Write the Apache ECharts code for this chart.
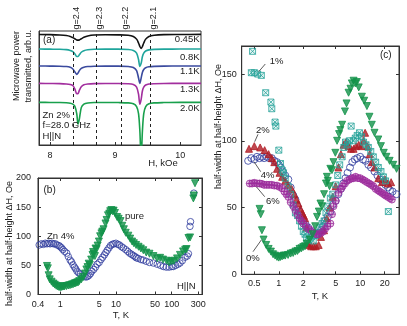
<!DOCTYPE html>
<html>
<head>
<meta charset="utf-8">
<script src="https://cdn.jsdelivr.net/npm/echarts@6/dist/echarts.min.js"></script>
<style>
html, body { margin: 0; padding: 0; background: #fff; }
#main { width: 407px; height: 326px; }
</style>
</head>
<body>
<div id="main"></div>
<script>
// (a) microwave transmission, Zn 2%, f = 28.0 GHz
var fieldH   = [7.83, 8.0, 8.15, 8.25, 8.31, 8.35, 8.38, 8.41, 8.43, 8.45, 8.48, 8.52, 8.58, 8.68, 8.85, 9.05, 9.2, 9.28, 9.33, 9.36, 9.38, 9.40, 9.42, 9.44, 9.47, 9.52, 9.6, 9.75, 10.0, 10.32];
var trace045 = [9.79, 9.78, 9.75, 9.70, 9.62, 9.51, 9.41, 9.31, 9.29, 9.31, 9.41, 9.54, 9.66, 9.74, 9.77, 9.76, 9.73, 9.62, 9.38, 9.04, 8.73, 8.56, 8.73, 9.04, 9.38, 9.62, 9.73, 9.78, 9.79, 9.80];
var trace08  = [8.50, 8.49, 8.48, 8.45, 8.38, 8.27, 8.08, 7.84, 7.84, 7.99, 8.22, 8.36, 8.44, 8.48, 8.49, 8.49, 8.46, 8.38, 8.14, 7.57, 6.97, 7.24, 7.84, 8.14, 8.33, 8.43, 8.47, 8.49, 8.50, 8.50];
var trace11  = [7.00, 6.99, 6.98, 6.95, 6.88, 6.73, 6.49, 6.26, 6.38, 6.59, 6.78, 6.89, 6.95, 6.98, 6.99, 6.99, 6.96, 6.87, 6.59, 5.93, 5.46, 5.93, 6.45, 6.69, 6.85, 6.93, 6.97, 6.99, 7.00, 7.00];
var trace13  = [5.46, 5.45, 5.44, 5.41, 5.36, 5.27, 4.98, 4.55, 4.55, 4.84, 5.16, 5.33, 5.40, 5.44, 5.45, 5.45, 5.43, 5.36, 5.13, 4.50, 3.61, 4.05, 4.81, 5.13, 5.31, 5.40, 5.43, 5.45, 5.46, 5.46];
var trace20  = [3.78, 3.77, 3.77, 3.74, 3.70, 3.62, 3.44, 2.78, 1.85, 2.30, 3.31, 3.62, 3.72, 3.76, 3.77, 3.76, 3.73, 3.65, 3.40, 2.78, 1.28, -1.22, 1.28, 2.78, 3.40, 3.65, 3.73, 3.76, 3.78, 3.78];
var traceNames = ['0.45K', '0.8K', '1.1K', '1.3K', '2.0K'];
var gNames = ['g=2.4', 'g=2.3', 'g=2.2', 'g=2.1'];
var gField = [8.35, 8.71, 9.10, 9.54];

// (b), (c) half-width vs T  [T (K), dH (Oe)]
var pure = [[0.58,49],[0.6,45],[0.62,33],[0.65,26],[0.7,22],[0.75,19],[0.8,17],[0.85,15],[0.9,14],[0.95,13],[1.0,12.5],[1.05,13],[1.1,13.5],[1.15,14],[1.2,14],[1.3,14.5],[1.4,15.5],[1.5,16],[1.6,17],[1.7,17.5],[1.8,19],[1.9,19.5],[2.0,20.5],[2.1,21],[2.2,23],[2.4,26],[2.6,30],[2.8,36],[2.95,43],[3.1,47],[3.25,53],[3.4,51],[3.6,60],[3.8,68],[3.9,73],[4.0,70],[4.2,66],[4.3,79],[4.5,78],[4.7,84],[4.95,91],[5.2,100],[5.5,105],[5.7,108],[6.0,112],[6.5,122],[6.8,128],[7.2,136],[7.6,139],[7.9,143],[8.3,145],[8.7,143],[9.1,144],[9.6,140],[10.5,133],[11.2,130],[12.1,126],[13.0,118],[13.9,112],[15,106],[16.7,101],[18,96],[19.5,91],[21,88],[23,85],[25.5,82],[28,79],[31,76],[35,72],[40,70],[47,66],[55,62],[62,63],[70,60],[81,58],[90,55],[100,57],[110,58],[125,62],[141,68],[160,74],[175,77],[185,78],[200,97],[214,98],[245,165],[250,170],[262,191]];
var zn4 = [[0.42,85],[0.46,87],[0.5,86],[0.54,88],[0.58,87],[0.62,88],[0.66,87],[0.71,88],[0.76,87],[0.82,87],[0.88,85],[0.95,84],[1.0,82],[1.06,80],[1.12,77],[1.2,74],[1.31,71],[1.4,65],[1.51,59],[1.6,56],[1.7,51],[1.8,47],[1.9,44],[2.0,40],[2.15,37],[2.3,35],[2.5,32],[2.7,31],[2.9,30],[3.1,31],[3.3,33],[3.5,36],[3.7,40],[4.0,43],[4.3,47],[4.6,52],[5.0,55],[5.4,60],[5.8,64],[6.2,68],[6.6,72],[7.0,76],[7.5,80],[8.0,84],[8.6,86],[9.2,87],[10,88],[10.8,86],[11.6,85],[12.6,82],[13.6,80],[15,77],[16.3,74],[17.6,71],[19,69],[20.5,67],[22,65],[23.2,63],[25,62],[28,60],[31,59],[35,57],[40,55],[47,54],[55,52],[63,50],[71,48],[80,47],[90,47],[100,48],[107,48],[118,50],[130,52],[141,54],[155,58],[174,64],[190,66],[200,70],[213,117],[218,125],[250,174]];
var zn1 = [[0.46,151],[0.476,167],[0.5,151],[0.55,150],[0.61,149],[0.69,136],[0.8,129],[0.82,124],[0.9,114],[0.92,111],[1.0,93],[1.05,83],[1.1,78],[1.14,76],[1.2,72],[1.3,66],[1.4,60],[1.5,52],[1.6,46],[1.7,44],[1.8,40],[1.9,36],[2.0,32],[2.1,30],[2.2,27],[2.35,26],[2.5,28],[2.65,25],[2.8,29],[3.0,31],[3.2,35],[3.4,38],[3.6,40],[3.8,46],[4.0,51],[4.3,57],[4.6,60],[5.0,67],[5.3,74],[5.6,82],[6.0,88],[6.3,95],[6.6,99],[7.0,97],[7.4,100],[7.75,111],[8.2,100],[8.7,102],[9.2,104],[9.8,106],[10.4,103],[11,99],[11.8,97],[12.6,95],[13.5,92],[14.5,88],[15.5,84],[16.7,80],[18,77],[19.3,73],[20.5,70],[22.2,47]];
var zn2 = [[0.43,94],[0.5,96],[0.59,95],[0.67,93],[0.75,90],[0.82,87],[0.88,84],[0.95,79],[1.02,76],[1.1,73],[1.2,70],[1.3,67],[1.44,64],[1.55,60],[1.65,56],[1.74,53],[1.85,49],[1.95,46],[2.02,44],[2.1,42],[2.2,35],[2.23,23],[2.35,22],[2.5,21],[2.68,21],[2.85,21],[3.09,22],[3.3,28],[3.6,33],[3.9,42],[4.2,50],[4.6,58],[5.0,66],[5.4,80],[5.8,90],[6.25,97],[6.7,99],[7.2,96],[7.7,94],[8.3,94],[8.9,96],[9.6,97],[10.3,96],[11.0,100],[11.5,106],[12.3,96],[13.1,90],[13.9,84],[15,80],[16.7,72],[18.5,69],[20.2,71],[22,68],[24,69]];
var zn6 = [[0.44,68],[0.47,68],[0.5,68.5],[0.54,68],[0.58,68],[0.62,67.7],[0.66,67],[0.71,67],[0.76,67],[0.82,67],[0.88,66.5],[0.95,66.4],[1.02,65.5],[1.09,64.5],[1.17,62],[1.24,60],[1.31,58],[1.4,54],[1.51,51],[1.6,48],[1.7,45],[1.8,42],[1.9,40],[2.0,38],[2.15,36],[2.3,34],[2.5,33],[2.7,31],[2.9,30],[3.1,30],[3.3,31],[3.5,32],[3.7,34],[3.95,36],[4.3,38],[4.5,45],[4.7,51],[5.0,55],[5.4,61],[5.8,64],[6.1,66],[6.5,68],[6.9,70],[7.4,71],[7.9,72],[8.3,72],[8.8,73],[9.4,72],[10,72],[10.7,71],[11.4,70],[12.1,69],[12.9,68],[13.7,67],[14.5,66],[15.5,64],[16.5,63],[17.4,62],[18.4,61],[19.5,60],[20.5,59],[21.8,58],[23.2,57],[24.5,56]];

var ticksA = [8, 9, 10];
var ticksB = [0.4, 1, 5, 10, 50, 100, 300];
var ticksC = [0.5, 1, 2, 5, 10, 20];
var ticksDHb = [0, 50, 100, 150, 200];
var ticksDHc = [0, 50, 100, 150];

var FONT = "'Liberation Sans', Arial, sans-serif";
var INK = '#333';
var GREEN = '#13924a', BLUE = '#2f3c9e', RED = '#b01c24', TEAL = '#27a39a', MAG = '#9b2a9b';
var boxX = 'path://M0,0H10V10H0Z M0,0L10,10 M10,0L0,10';
var circPlus = 'path://M0,5A5,5,0,1,1,10,5A5,5,0,1,1,0,5Z M5,0V10 M0,5H10';

function axis(extra) {
	return echarts.util.merge({
		axisLine: { show: true, onZero: false, lineStyle: { color: INK, width: 1 } },
		axisTick: { show: true, inside: true, length: 3, lineStyle: { color: INK } },
		axisLabel: { color: '#222', fontSize: 9, fontFamily: FONT, margin: 5 },
		splitLine: { show: false }
	}, extra, true);
}

function pairs(xs, ys) {
	return xs.map(function (x, i) { return [x, ys[i]]; });
}

var traces = [trace045, trace08, trace11, trace13, trace20];
var traceColors = ['#111111', '#1fa59c', '#3a4a9e', '#a22e9e', '#18a04c'];

var series = traces.map(function (ys, i) {
	return {
		type: 'line', xAxisIndex: 0, yAxisIndex: 0, name: traceNames[i],
		data: pairs(fieldH, ys), showSymbol: false, smooth: 0.3,
		lineStyle: { color: traceColors[i], width: 1.6 }, silent: true
	};
});
series[0].markLine = {
	silent: true, symbol: 'none', label: { show: false },
	lineStyle: { color: '#222', type: [3, 3], width: 1 },
	data: gField.map(function (h) { return { xAxis: h }; })
};

function scat(name, data, xi, yi, sym, color, fill, rot, size) {
	return {
		type: 'scatter', name: name, xAxisIndex: xi, yAxisIndex: yi, data: data,
		symbol: sym, symbolSize: size, symbolRotate: rot || 0, silent: true,
		itemStyle: { color: fill, borderColor: color, borderWidth: 1 }
	};
}

// (b)
series.push(scat('Zn 4%', zn4, 1, 1, 'circle', BLUE, 'rgba(255,255,255,0)', 0, 6.5));
series.push(scat('pure', pure, 1, 1, 'triangle', GREEN, GREEN, 180, 7));
// (c)
series.push(scat('4%', zn4, 3, 3, 'circle', BLUE, 'rgba(255,255,255,0)', 0, 7));
series.push(scat('2%', zn2, 3, 3, 'triangle', RED, RED, 0, 7));
series.push(scat('1%', zn1, 3, 3, boxX, TEAL, 'rgba(39,163,154,0.12)', 0, 6));
series.push(scat('6%', zn6, 3, 3, circPlus, MAG, 'rgba(155,42,155,0.3)', 0, 7));
series.push(scat('0%', pure, 3, 3, 'triangle', GREEN, GREEN, 180, 7));

var myChart = echarts.init(document.getElementById('main'));
myChart.setOption({
	animation: false,
	textStyle: { fontFamily: FONT },
	grid: [
		{ left: 39, top: 31, right: 206, bottom: 181, show: true, borderColor: INK, borderWidth: 1, outerBoundsMode: 'none' },
		{ left: 38, top: 178, right: 205, bottom: 31.5, show: true, borderColor: INK, borderWidth: 1, outerBoundsMode: 'none' },
		{ left: 241.7, top: 46, right: 8, bottom: 51.7, show: true, borderColor: INK, borderWidth: 1, outerBoundsMode: 'none' }
	],
	xAxis: [
		axis({ gridIndex: 0, type: 'value', min: 7.83, max: 10.32, axisLabel: { customValues: ticksA, margin: 6 }, axisTick: { customValues: ticksA } }),
		axis({ gridIndex: 1, type: 'log', logBase: 10, min: 0.4, max: 350, axisLabel: { customValues: ticksB, margin: 6 }, axisTick: { customValues: ticksB } }),
		axis({ gridIndex: 1, type: 'log', logBase: 10, min: 0.4, max: 350, position: 'top', axisLabel: { show: false }, axisTick: { customValues: ticksB } }),
		axis({ gridIndex: 2, type: 'log', logBase: 10, min: 0.35, max: 30, axisLabel: { customValues: ticksC, margin: 5 }, axisTick: { customValues: ticksC } }),
		axis({ gridIndex: 2, type: 'log', logBase: 10, min: 0.35, max: 30, position: 'top', axisLabel: { show: false }, axisTick: { customValues: ticksC } })
	],
	yAxis: [
		axis({ gridIndex: 0, type: 'value', min: 0, max: 10.1, axisLabel: { show: false }, axisTick: { show: false } }),
		axis({ gridIndex: 1, type: 'value', position: 'left', min: 0, max: 200, axisLabel: { show: false }, axisTick: { customValues: ticksDHb } }),
		axis({ gridIndex: 1, type: 'value', position: 'right', min: 0, max: 200, axisLabel: { show: false }, axisTick: { customValues: ticksDHb } }),
		axis({ gridIndex: 2, type: 'value', position: 'left', min: 0, max: 171, axisLabel: { customValues: ticksDHc, margin: 5 }, axisTick: { customValues: ticksDHc } }),
		axis({ gridIndex: 2, type: 'value', position: 'right', min: 0, max: 171, axisLabel: { show: false }, axisTick: { customValues: ticksDHc } })
	],
	series: series
});

// texts and leader lines
function txt(x, y, s, align, rot, size) {
	return {
		type: 'text', x: x, y: y, rotation: rot || 0, silent: true, z: 100,
		style: { text: s, font: (size || 9.5) + 'px ' + FONT, fill: '#222', textAlign: align || 'left', textVerticalAlign: 'middle' }
	};
}
function lead(x1, y1, x2, y2) {
	return { type: 'line', silent: true, z: 100, shape: { x1: x1, y1: y1, x2: x2, y2: y2 }, style: { stroke: '#333', lineWidth: 0.8 } };
}

var labelY = [39.7, 57.3, 71.3, 89.7, 108.7];
var els = [
	txt(43, 40, '(a)', 'left', 0, 10),
	txt(42.5, 115.5, 'Zn 2%'),
	txt(42.5, 125.8, 'f=28.0 GHz'),
	txt(42.5, 136.2, 'H||N'),
	txt(163, 163, 'H, kOe', 'center'),
	txt(16.7, 31, 'Microwave power', 'right', Math.PI / 2, 9),
	txt(28.3, 30, 'transmitted, arb.u.', 'right', Math.PI / 2, 9),
	txt(43.5, 190, '(b)', 'left', 0, 10),
	txt(125, 216.7, 'pure'),
	txt(47, 236, 'Zn 4%'),
	txt(177, 286.7, 'H||N'),
	txt(121, 315.5, 'T, K', 'center'),
	txt(9.5, 243.5, 'half-width at half-height \u0394H, Oe', 'center', Math.PI / 2, 9),
	txt(380, 55, '(c)', 'left', 0, 10),
	txt(320, 296.7, 'T, K', 'center'),
	txt(218.3, 126.5, 'half-width at half-height \u0394H, Oe', 'center', Math.PI / 2, 9),
	txt(269.7, 61.7, '1%'), lead(265.3, 64, 258.7, 71.7),
	txt(256, 130, '2%'), lead(258, 134.3, 254.7, 141.7),
	txt(260.7, 175, '4%'), lead(260.7, 171.7, 254, 161.7),
	txt(266, 201, '6%'), lead(264.7, 196.7, 256.3, 186.7),
	txt(246, 258.3, '0%'), lead(253, 251.7, 261.3, 240)
];
traceNames.forEach(function (n, i) {
	els.push(txt(199.5, labelY[i], n, 'right', 0, 9.5));
});
gField.forEach(function (h, i) {
	var p = myChart.convertToPixel({ gridIndex: 0 }, [h, 10.1]);
	els.push(txt(p[0] + 3.5, 29.5, gNames[i], 'left', Math.PI / 2, 9));
});
// (b) y tick labels, placed through the grid's scales, drawn on their own layer
ticksDHb.forEach(function (v) {
	var p = myChart.convertToPixel({ gridIndex: 1 }, [1, v]);
	var py = (p && isFinite(p[1])) ? p[1] : 294.5 - v * 116.5 / 200;
	var t = txt(31, py, String(v), 'right', 0, 9);
	t.z = 1000;
	t.zlevel = 1;
	els.push(t);
});
myChart.setOption({ graphic: els });
</script>
</body>
</html>
